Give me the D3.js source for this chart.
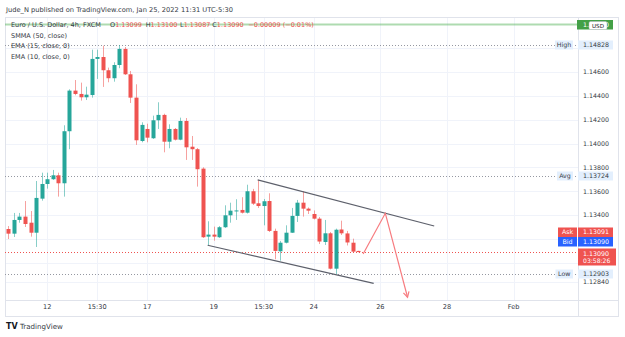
<!DOCTYPE html>
<html>
<head>
<meta charset="utf-8">
<script src="https://cdn.jsdelivr.net/npm/d3@7/dist/d3.min.js"></script>
<style>
  body { margin: 0; background: #fff; }
  svg text { font-family: "DejaVu Sans", Verdana, sans-serif; }
</style>
</head>
<body>
<svg id="chart" width="625" height="337"></svg>
<script>
// EURUSD 4h candles
const openP = [1.13283,1.13244,1.13359,1.13387,1.13336,1.13252,1.13538,1.13661,1.13701,1.13734,
  1.13667,1.14104,1.14445,1.14417,1.14389,1.14408,1.14711,1.14727,1.14616,1.14549,
  1.14660,1.14795,1.14582,1.14386,1.14022,1.14123,1.14045,1.14196,1.14241,1.14016,
  1.14123,1.14033,1.14190,1.13974,1.13953,1.13790,1.13219,1.13236,1.13214,1.13298,
  1.13398,1.13434,1.13443,1.13420,1.13600,1.13499,1.13476,1.13518,1.13267,1.13096,
  1.13168,1.13252,1.13393,1.13504,1.13454,1.13409,1.13370,1.13174,1.13247,1.12950,
  1.13279,1.13246,1.13168,1.13099];
const highP = [1.13308,1.13418,1.13418,1.13518,1.13434,1.13686,1.13756,1.13756,1.13779,1.13756,
  1.14154,1.14456,1.14534,1.14512,1.14478,1.14789,1.14789,1.14822,1.14638,1.14683,
  1.14828,1.14811,1.14610,1.14498,1.14179,1.14167,1.14235,1.14347,1.14251,1.14162,
  1.14131,1.14218,1.14215,1.14064,1.13963,1.13801,1.13348,1.13303,1.13308,1.13482,
  1.13504,1.13533,1.13550,1.13655,1.13620,1.13695,1.13535,1.13583,1.13286,1.13183,
  1.13314,1.13460,1.13527,1.13600,1.13464,1.13439,1.13384,1.13359,1.13258,1.13286,
  1.13353,1.13267,1.13202,1.13100];
const lowP = [1.13199,1.13216,1.13336,1.13300,1.13219,1.13132,1.13521,1.13622,1.13695,1.13555,
  1.13555,1.13953,1.14406,1.14361,1.14366,1.14386,1.14543,1.14476,1.14515,1.14520,
  1.14633,1.14576,1.14341,1.13989,1.14011,1.14011,1.14039,1.14123,1.13927,1.13961,
  1.14026,1.14028,1.13863,1.13863,1.13639,1.13208,1.13147,1.13185,1.13208,1.13292,
  1.13336,1.13359,1.13413,1.13413,1.13485,1.13460,1.13314,1.13258,1.13029,1.13017,
  1.13162,1.13250,1.13342,1.13387,1.13409,1.13363,1.13157,1.13149,1.12944,1.12903,
  1.13233,1.13145,1.13086,1.13087];
const closeP = [1.13244,1.13359,1.13387,1.13325,1.13252,1.13544,1.13661,1.13701,1.13734,1.13667,
  1.14104,1.14445,1.14417,1.14389,1.14411,1.14711,1.14727,1.14616,1.14549,1.14660,
  1.14795,1.14582,1.14386,1.14028,1.14157,1.14050,1.14196,1.14241,1.14016,1.14123,
  1.14033,1.14190,1.13969,1.13953,1.13785,1.13214,1.13236,1.13219,1.13298,1.13398,
  1.13437,1.13439,1.13420,1.13600,1.13496,1.13476,1.13516,1.13267,1.13099,1.13168,
  1.13252,1.13393,1.13504,1.13454,1.13437,1.13370,1.13178,1.13247,1.12950,1.13277,
  1.13247,1.13170,1.13093,1.13090];

// time axis (bar index -> label)
const timeTickIndex = [7, 16, 25, 37, 46, 55, 67, 79, 91];
const timeTickLabels = ["12", "15:30", "17", "19", "15:30", "24", "26", "28", "Feb"];
// price axis
const gridPrices = [1.148, 1.146, 1.144, 1.142, 1.140, 1.138, 1.136, 1.134, 1.132, 1.130, 1.1284];
const priceTickLabels = [1.146, 1.144, 1.142, 1.140, 1.138, 1.136, 1.134, 1.1284];
// drawings (bar index, price)
const channelUpper = [[44.9, 1.13695], [76.7, 1.13308]];
const channelLower = [[35.9, 1.13147], [65.8, 1.12827]];
const projection = [[63.9, 1.13073], [67.9, 1.13415], [71.9, 1.12710]];
// price markers
const highPrice = 1.14828, avgPrice = 1.13724, lowPrice = 1.12903;
const askPrice = 1.13091, bidPrice = 1.13090, lastPrice = 1.13090;
const alertPrice = 1.15000;
const legendValues = ["1.13099", "1.13100", "1.13087", "1.13090"];

const candles = openP.map((o, i) => ({ i: i, o: o, h: highP[i], l: lowP[i], c: closeP[i] }));

const UP = "#26a69a", DOWN = "#ef5350", TXT = "#363a45";
const plot = { left: 5, right: 578, top: 17, bottom: 300 };
const svg = d3.select("#chart");

const x = d3.scaleLinear().domain([-0.6, 102.6]).range([plot.left, plot.right]);
const y = d3.scaleLinear().domain([1.12687, 1.15063]).range([plot.bottom, plot.top]);

// header
svg.append("text").attr("x", 6).attr("y", 11.5).attr("font-size", 6.7).attr("fill", TXT)
  .text("Jude_N published on TradingView.com, Jan 25, 2022 11:31 UTC-5:30");

// grid
svg.append("g").selectAll("line").data(gridPrices).join("line")
  .attr("x1", plot.left).attr("x2", plot.right)
  .attr("y1", d => Math.round(y(d)) + 0.5).attr("y2", d => Math.round(y(d)) + 0.5)
  .attr("stroke", "#f0f3fa");
svg.append("g").selectAll("line").data(timeTickIndex).join("line")
  .attr("x1", d => Math.round(x(d)) + 0.5).attr("x2", d => Math.round(x(d)) + 0.5)
  .attr("y1", plot.top).attr("y2", plot.bottom)
  .attr("stroke", "#f0f3fa");

// frame
svg.append("rect").attr("x", plot.left + 0.5).attr("y", plot.top + 0.5)
  .attr("width", 618 - plot.left).attr("height", 316 - plot.top)
  .attr("fill", "none").attr("stroke", "#e0e3eb");
svg.append("line").attr("x1", plot.right + 0.5).attr("x2", plot.right + 0.5)
  .attr("y1", plot.top).attr("y2", 316).attr("stroke", "#e0e3eb");
svg.append("line").attr("x1", plot.left).attr("x2", 618)
  .attr("y1", plot.bottom + 0.5).attr("y2", plot.bottom + 0.5).attr("stroke", "#e0e3eb");

// alert line (green)
svg.append("line").attr("x1", plot.left).attr("x2", plot.right)
  .attr("y1", y(alertPrice)).attr("y2", y(alertPrice))
  .attr("stroke", "#4caf50").attr("stroke-opacity", 0.45).attr("stroke-width", 2);

// dotted reference lines
const refLines = [
  { p: highPrice, color: "#9598a1" },
  { p: avgPrice, color: "#9598a1" },
  { p: lowPrice, color: "#9598a1" },
  { p: lastPrice, color: "#ef5350" }
];
svg.append("g").selectAll("line").data(refLines).join("line")
  .attr("x1", plot.left).attr("x2", plot.right)
  .attr("y1", d => Math.round(y(d.p)) + 0.5).attr("y2", d => Math.round(y(d.p)) + 0.5)
  .attr("stroke", d => d.color).attr("stroke-dasharray", "1,2");

// candles
const bw = 4;
const cg = svg.append("g");
cg.selectAll("line").data(candles).join("line")
  .attr("x1", d => Math.round(x(d.i)) + 0.5).attr("x2", d => Math.round(x(d.i)) + 0.5)
  .attr("y1", d => y(d.h)).attr("y2", d => y(d.l))
  .attr("stroke", d => d.c >= d.o ? UP : DOWN).attr("stroke-opacity", 0.55);
cg.selectAll("rect").data(candles).join("rect")
  .attr("x", d => Math.round(x(d.i)) - bw / 2 + 0.5)
  .attr("y", d => y(Math.max(d.o, d.c)))
  .attr("width", bw)
  .attr("height", d => Math.max(1, Math.abs(y(d.o) - y(d.c))))
  .attr("fill", d => d.c >= d.o ? UP : DOWN);

// drawings
const line = d3.line().x(d => x(d[0])).y(d => y(d[1]));
[channelUpper, channelLower].forEach(pts => {
  svg.append("path").attr("d", line(pts)).attr("fill", "none")
    .attr("stroke", "#5d606b").attr("stroke-width", 1.2);
});
svg.append("path").attr("d", line(projection)).attr("fill", "none")
  .attr("stroke", "#f77c80").attr("stroke-width", 1.2);
// arrow head at the end of the projection
{
  const a = projection[projection.length - 2], b = projection[projection.length - 1];
  const x1 = x(a[0]), y1 = y(a[1]), x2 = x(b[0]), y2 = y(b[1]);
  const ang = Math.atan2(y2 - y1, x2 - x1), len = 6, spread = 0.5;
  const pts = [[x2 - len * Math.cos(ang - spread), y2 - len * Math.sin(ang - spread)], [x2, y2],
    [x2 - len * Math.cos(ang + spread), y2 - len * Math.sin(ang + spread)]];
  svg.append("path").attr("d", d3.line()(pts)).attr("fill", "none")
    .attr("stroke", "#f77c80").attr("stroke-width", 1.2);
}

// legend
const lg = svg.append("g").attr("font-size", 6.5).attr("fill", TXT);
lg.append("text").attr("x", 11).attr("y", 27.3).text("Euro / U.S. Dollar, 4h, FXCM");
const legendKeys = ["O", "H", "L", "C"], legendX = [110, 145.7, 180, 212.3];
legendKeys.forEach((k, j) => {
  const t = lg.append("text").attr("x", legendX[j]).attr("y", 27.3);
  t.append("tspan").text(k);
  t.append("tspan").attr("fill", DOWN).text(legendValues[j]);
});
lg.append("text").attr("x", 248.3).attr("y", 27.3).attr("fill", DOWN)
  .text("\u22120.00009 (\u22120.01%)");
["SMMA (50, close)", "EMA (15, close, 0)", "EMA (10, close, 0)"].forEach((t, k) => {
  lg.append("text").attr("x", 11).attr("y", 37.8 + k * 10.6).text(t);
});

// time axis labels
svg.append("g").attr("font-size", 6.6).attr("fill", TXT).attr("text-anchor", "middle")
  .selectAll("text").data(timeTickIndex).join("text")
  .attr("x", d => x(d)).attr("y", 309.4)
  .text((d, k) => timeTickLabels[k]);

// price axis labels
const FS = 6.3;
svg.append("g").attr("font-size", FS).attr("fill", TXT)
  .selectAll("text").data(priceTickLabels).join("text")
  .attr("x", 583).attr("y", d => y(d) + 2.3)
  .text(d => d.toFixed(5));

// price badges
function badge(p, label, bg, fg, lx) {
  const yy = Math.round(y(p));
  svg.append("rect").attr("x", lx).attr("y", yy - 4.5).attr("width", 573 - lx).attr("height", 9)
    .attr("fill", bg);
  svg.append("text").attr("x", (lx + 573) / 2).attr("y", yy + 2.3).attr("font-size", FS)
    .attr("text-anchor", "middle").attr("fill", fg).text(label);
  svg.append("rect").attr("x", 578).attr("y", yy - 4.5).attr("width", 35).attr("height", 9)
    .attr("fill", bg);
  svg.append("text").attr("x", 583).attr("y", yy + 2.3).attr("font-size", FS)
    .attr("fill", fg).text(p.toFixed(5));
}
badge(highPrice, "High", "#e3effd", TXT, 555);
badge(avgPrice, "Avg", "#e3effd", TXT, 557);
badge(lowPrice, "Low", "#e3effd", TXT, 555.5);

// ask / bid
function quote(p, yy, label, bg) {
  svg.append("rect").attr("x", 558).attr("y", yy - 4.5).attr("width", 19).attr("height", 9.5).attr("fill", bg);
  svg.append("text").attr("x", 567.5).attr("y", yy + 2.4).attr("font-size", FS)
    .attr("text-anchor", "middle").attr("fill", "#fff").text(label);
  svg.append("rect").attr("x", 578).attr("y", yy - 4.5).attr("width", 35).attr("height", 9.5).attr("fill", bg);
  svg.append("text").attr("x", 583).attr("y", yy + 2.4).attr("font-size", FS)
    .attr("fill", "#fff").text(p.toFixed(5));
}
quote(askPrice, 232, "Ask", DOWN);
quote(bidPrice, 241.5, "Bid", "#2962ff");

// last price badge with countdown
{
  const yy = Math.round(y(lastPrice));
  svg.append("rect").attr("x", 578).attr("y", yy - 3.5).attr("width", 38).attr("height", 17).attr("fill", DOWN);
  svg.append("text").attr("x", 583).attr("y", yy + 3.6).attr("font-size", FS).attr("fill", "#fff")
    .text(lastPrice.toFixed(5));
  svg.append("text").attr("x", 583).attr("y", yy + 11).attr("font-size", 6.1).attr("fill", "#fff")
    .text("03:58:26");
}

// alert badge: green price label partly covered by the currency tag
{
  const yy = y(alertPrice);
  svg.append("rect").attr("x", 577).attr("y", yy - 4.5).attr("width", 36).attr("height", 9.5).attr("fill", "#43a047");
  svg.append("text").attr("x", 583).attr("y", yy + 2.4).attr("font-size", FS).attr("fill", "#fff").text("1.15000");
  svg.append("rect").attr("x", 589).attr("y", yy - 3).attr("width", 18).attr("height", 8).attr("rx", 1.5)
    .attr("fill", "#fff").attr("stroke", "#b2b5be").attr("stroke-width", 0.5);
  svg.append("text").attr("x", 598).attr("y", yy + 3.1).attr("font-size", 5.6).attr("text-anchor", "middle")
    .attr("fill", "#131722").text("USD");
}

// footer logo
svg.append("text").attr("x", 6).attr("y", 329).attr("font-size", 8).attr("font-weight", "bold")
  .attr("fill", "#131722").text("TV");
svg.append("text").attr("x", 20).attr("y", 329).attr("font-size", 7.1).attr("fill", TXT)
  .text("TradingView");
</script>
</body>
</html>
